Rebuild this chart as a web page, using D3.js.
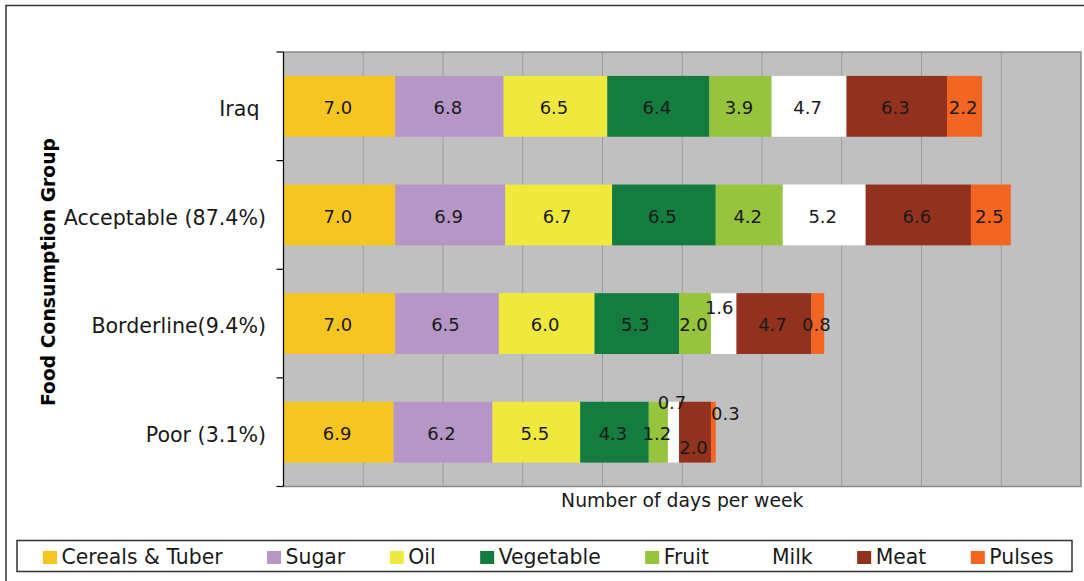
<!DOCTYPE html>
<html>
<head>
<meta charset="utf-8">
<script src="https://d3js.org/d3.v7.min.js"></script>
<style>
  html, body { margin: 0; padding: 0; background: #fff; }
  svg { display: block; font-family: "DejaVu Sans", Verdana, sans-serif; }
</style>
</head>
<body>
<svg id="chart" width="1084" height="581"></svg>
<script>
// Food consumption groups (top to bottom)
const groups = ['Iraq\u00a0', 'Acceptable (87.4%)', 'Borderline(9.4%)', 'Poor (3.1%)'];

// Food items, in stacking order
const foods = ['Cereals & Tuber', 'Sugar', 'Oil', 'Vegetable', 'Fruit', 'Milk', 'Meat', 'Pulses'];
const foodColors = ['#F5C521', '#B696C6', '#EFE93D', '#137C3E', '#96C43C', '#FFFFFF', '#92321E', '#F26522'];

// days per week, one array per group, same order as foods
const iraqDays = [7.0, 6.8, 6.5, 6.4, 3.9, 4.7, 6.3, 2.2];
const acceptableDays = [7.0, 6.9, 6.7, 6.5, 4.2, 5.2, 6.6, 2.5];
const borderlineDays = [7.0, 6.5, 6.0, 5.3, 2.0, 1.6, 4.7, 0.8];
const poorDays = [6.9, 6.2, 5.5, 4.3, 1.2, 0.7, 2.0, 0.3];

const xTicks = [0, 5, 10, 15, 20, 25, 30, 35, 40, 45, 50];

const svg = d3.select('#chart');

// plot area
const plot = { left: 283.5, top: 52, right: 1081, bottom: 486.5 };

// outer frame
svg.append('rect')
    .attr('x', 6).attr('y', 5.5)
    .attr('width', 1100).attr('height', 600)
    .attr('fill', 'none')
    .attr('stroke', '#333')
    .attr('stroke-width', 1.5);

const x = d3.scaleLinear()
    .domain([0, 50])
    .range([plot.left, plot.right]);

const y = d3.scaleBand()
    .domain(groups)
    .range([plot.top, plot.bottom])
    .paddingInner(0.44)
    .paddingOuter(0.22);

// plot background
svg.append('rect')
    .attr('x', plot.left).attr('y', plot.top)
    .attr('width', plot.right - plot.left)
    .attr('height', plot.bottom - plot.top)
    .attr('fill', '#C0C0C0');

// vertical gridlines
svg.append('g')
    .selectAll('line')
    .data(xTicks.slice(1, -1))
    .enter().append('line')
    .attr('x1', d => x(d)).attr('x2', d => x(d))
    .attr('y1', plot.top).attr('y2', plot.bottom)
    .attr('stroke', '#9C9C9C')
    .attr('stroke-width', 1);

// plot border (top, right, bottom)
svg.append('path')
    .attr('d', `M${plot.left},${plot.top}H${plot.right}V${plot.bottom}H${plot.left}`)
    .attr('fill', 'none')
    .attr('stroke', '#8A8A8A')
    .attr('stroke-width', 1.5);

// build stacked rows
const rows = groups.map((g, i) => {
    const vals = [iraqDays, acceptableDays, borderlineDays, poorDays][i];
    const row = { group: g };
    foods.forEach((f, j) => { row[f] = vals[j]; });
    return row;
});

const series = d3.stack().keys(foods)(rows);
const color = d3.scaleOrdinal().domain(foods).range(foodColors);

const layers = svg.append('g')
    .selectAll('g')
    .data(series)
    .enter().append('g')
    .attr('fill', d => color(d.key));

layers.selectAll('rect')
    .data(d => d)
    .enter().append('rect')
    .attr('x', d => x(d[0]))
    .attr('y', d => y(d.data.group))
    .attr('width', d => x(d[1]) - x(d[0]))
    .attr('height', y.bandwidth());

// labels that Excel pushed off the small segments
const labelNudge = {
    'Borderline(9.4%)|Milk': [-3, -17.5],
    'Poor (3.1%)|Milk': [0, -31],
    'Poor (3.1%)|Meat': [0, 13.5],
    'Poor (3.1%)|Pulses': [13.5, -20.5]
};

const labels = svg.append('g')
    .attr('font-size', 18)
    .attr('fill', '#1a1a1a')
    .attr('text-anchor', 'middle');

series.forEach(s => {
    s.forEach(d => {
        const key = d.data.group + '|' + s.key;
        const nudge = labelNudge[key] || [0, 0];
        const cx = (x(d[0]) + x(d[1])) / 2 - 1.5 + nudge[0];
        const cy = y(d.data.group) + y.bandwidth() / 2 + nudge[1];
        labels.append('text')
            .attr('x', cx)
            .attr('y', cy)
            .attr('dy', '0.44em')
            .text(d3.format('.1f')(d.data[s.key]));
    });
});

// y axis: black line + ticks at category boundaries
const yAxis = svg.append('g');
yAxis.append('line')
    .attr('x1', plot.left).attr('x2', plot.left)
    .attr('y1', plot.top).attr('y2', plot.bottom)
    .attr('stroke', '#000').attr('stroke-width', 1.2);

const boundaries = groups.map(g => y(g) - y.step() * y.paddingInner() / 2)
    .concat([plot.bottom]);
yAxis.selectAll('line.tick')
    .data(boundaries)
    .enter().append('line')
    .attr('class', 'tick')
    .attr('x1', plot.left - 7).attr('x2', plot.left)
    .attr('y1', d => d).attr('y2', d => d)
    .attr('stroke', '#000').attr('stroke-width', 1.2);

yAxis.selectAll('text')
    .data(groups)
    .enter().append('text')
    .attr('x', 266)
    .attr('y', d => y(d) + y.bandwidth() / 2)
    .attr('dy', '0.47em')
    .attr('text-anchor', 'end')
    .attr('font-size', 20.6)
    .attr('fill', '#1a1a1a')
    .style('white-space', 'pre')
    .text(d => d);

// axis titles
svg.append('text')
    .attr('x', (plot.left + plot.right) / 2)
    .attr('y', 507)
    .attr('text-anchor', 'middle')
    .attr('font-size', 18.8)
    .attr('fill', '#1a1a1a')
    .text('Number of days per week');

svg.append('text')
    .attr('transform', `translate(55,272) rotate(-90)`)
    .attr('text-anchor', 'middle')
    .attr('font-size', 18.8)
    .attr('font-weight', 'bold')
    .attr('fill', '#000')
    .text('Food Consumption Group');

// legend
const legend = svg.append('g');
legend.append('rect')
    .attr('x', 17).attr('y', 540.5)
    .attr('width', 1055).attr('height', 31)
    .attr('fill', '#fff')
    .attr('stroke', '#333')
    .attr('stroke-width', 1.5);

let lx = 43;
foods.forEach(f => {
    legend.append('rect')
        .attr('x', lx).attr('y', 551)
        .attr('width', 14).attr('height', 13)
        .attr('fill', color(f));
    const t = legend.append('text')
        .attr('x', lx + 18.5)
        .attr('y', 564)
        .attr('font-size', 20.4)
        .attr('fill', '#1a1a1a')
        .text(f);
    lx += 18.5 + t.node().getComputedTextLength() + 44.5;
});
</script>
</body>
</html>
